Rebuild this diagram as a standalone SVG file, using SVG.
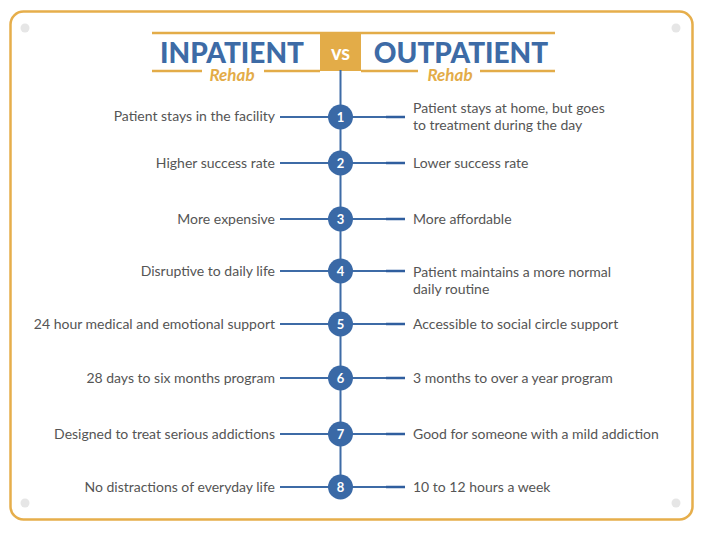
<svg xmlns="http://www.w3.org/2000/svg" width="704" height="533" viewBox="0 0 704 533">
<style>
.frame{fill:#fff;stroke:#E6AE4B;stroke-width:2.5}
.dot{fill:#E6E6E6}
.gold{stroke:#E3AC48;stroke-width:2.5;fill:none}
.title{font-family:Lato,"Liberation Sans",sans-serif;font-weight:900;font-size:28px;fill:#3D6BA6}
.sub{font-family:Lato,"Liberation Sans",sans-serif;font-weight:bold;font-style:italic;font-size:17px;fill:#E3AC48}
.vs{font-family:Lato,"Liberation Sans",sans-serif;font-weight:bold;font-size:20px;fill:#fff}
.txt{font-family:Lato,"Liberation Sans",sans-serif;font-size:14px;fill:#555}
.l{text-anchor:end}
.conn{stroke:#3D6BA6;stroke-width:2;fill:none}
.conn2{stroke:#2F5E9E;stroke-width:2.5;fill:none}
.num circle{fill:#3A69A6}
.num text{font-family:Lato,"Liberation Sans",sans-serif;font-weight:bold;font-size:13px;fill:#fff;text-anchor:middle}
</style>
<rect class="frame" x="10.5" y="11.5" width="682" height="508" rx="13"/>
<circle class="dot" cx="25" cy="28" r="4.5"/>
<circle class="dot" cx="676" cy="28" r="4.5"/>
<circle class="dot" cx="25" cy="503" r="4.5"/>
<circle class="dot" cx="676" cy="503" r="4.5"/>
<g id="header">
<path class="gold" d="M152 33H555M152 71H202M264 71H320M361 71H418M480 71H555"/>
<rect x="320" y="32" width="41" height="39" fill="#E3AC48"/>
<text class="vs" x="340.5" y="60" text-anchor="middle">vs</text>
<text class="title" x="232" y="62.5" text-anchor="middle">INPATIENT</text>
<text class="title" x="461" y="62.5" text-anchor="middle">OUTPATIENT</text>
<text class="sub" x="232" y="81" text-anchor="middle">Rehab</text>
<text class="sub" x="450" y="81" text-anchor="middle">Rehab</text>
</g>
<g id="connectors">
<path class="conn" d="M340.5 70V487"/>
<path class="conn" d="M280 117H386M280 163H386M280 219H386M280 271H386M280 324H386M280 378H386M280 434H386M280 487H386"/>
<path class="conn2" d="M386 117H405M386 163H405M386 219H405M386 271H405M386 324H405M386 378H405M386 434H405M386 487H405"/>
</g>
<g id="row1"><g class="num"><circle cx="340.5" cy="117" r="12.5"/><text x="340.5" y="121.5">1</text></g>
<text class="txt l" x="275" y="121">Patient stays in the facility</text>
<text class="txt" x="413" y="113">Patient stays at home, but goes</text>
<text class="txt" x="413" y="130">to treatment during the day</text></g>
<g id="row2"><g class="num"><circle cx="340.5" cy="163" r="12.5"/><text x="340.5" y="167.5">2</text></g>
<text class="txt l" x="275" y="167.5">Higher success rate</text>
<text class="txt" x="413" y="167.5">Lower success rate</text></g>
<g id="row3"><g class="num"><circle cx="340.5" cy="219" r="12.5"/><text x="340.5" y="223.5">3</text></g>
<text class="txt l" x="275" y="223.5">More expensive</text>
<text class="txt" x="413" y="223.5">More affordable</text></g>
<g id="row4"><g class="num"><circle cx="340.5" cy="271" r="12.5"/><text x="340.5" y="275.5">4</text></g>
<text class="txt l" x="275" y="276">Disruptive to daily life</text>
<text class="txt" x="413" y="276.5">Patient maintains a more normal</text>
<text class="txt" x="413" y="293.5">daily routine</text></g>
<g id="row5"><g class="num"><circle cx="340.5" cy="324" r="12.5"/><text x="340.5" y="328.5">5</text></g>
<text class="txt l" x="275" y="328.5">24 hour medical and emotional support</text>
<text class="txt" x="413" y="328.5">Accessible to social circle support</text></g>
<g id="row6"><g class="num"><circle cx="340.5" cy="378" r="12.5"/><text x="340.5" y="382.5">6</text></g>
<text class="txt l" x="275" y="382.5">28 days to six months program</text>
<text class="txt" x="413" y="382.5">3 months to over a year program</text></g>
<g id="row7"><g class="num"><circle cx="340.5" cy="434" r="12.5"/><text x="340.5" y="438.5">7</text></g>
<text class="txt l" x="275" y="438.5">Designed to treat serious addictions</text>
<text class="txt" x="413" y="438.5">Good for someone with a mild addiction</text></g>
<g id="row8"><g class="num"><circle cx="340.5" cy="487" r="12.5"/><text x="340.5" y="491.5">8</text></g>
<text class="txt l" x="275" y="491.5">No distractions of everyday life</text>
<text class="txt" x="413" y="491.5">10 to 12 hours a week</text></g>
</svg>
